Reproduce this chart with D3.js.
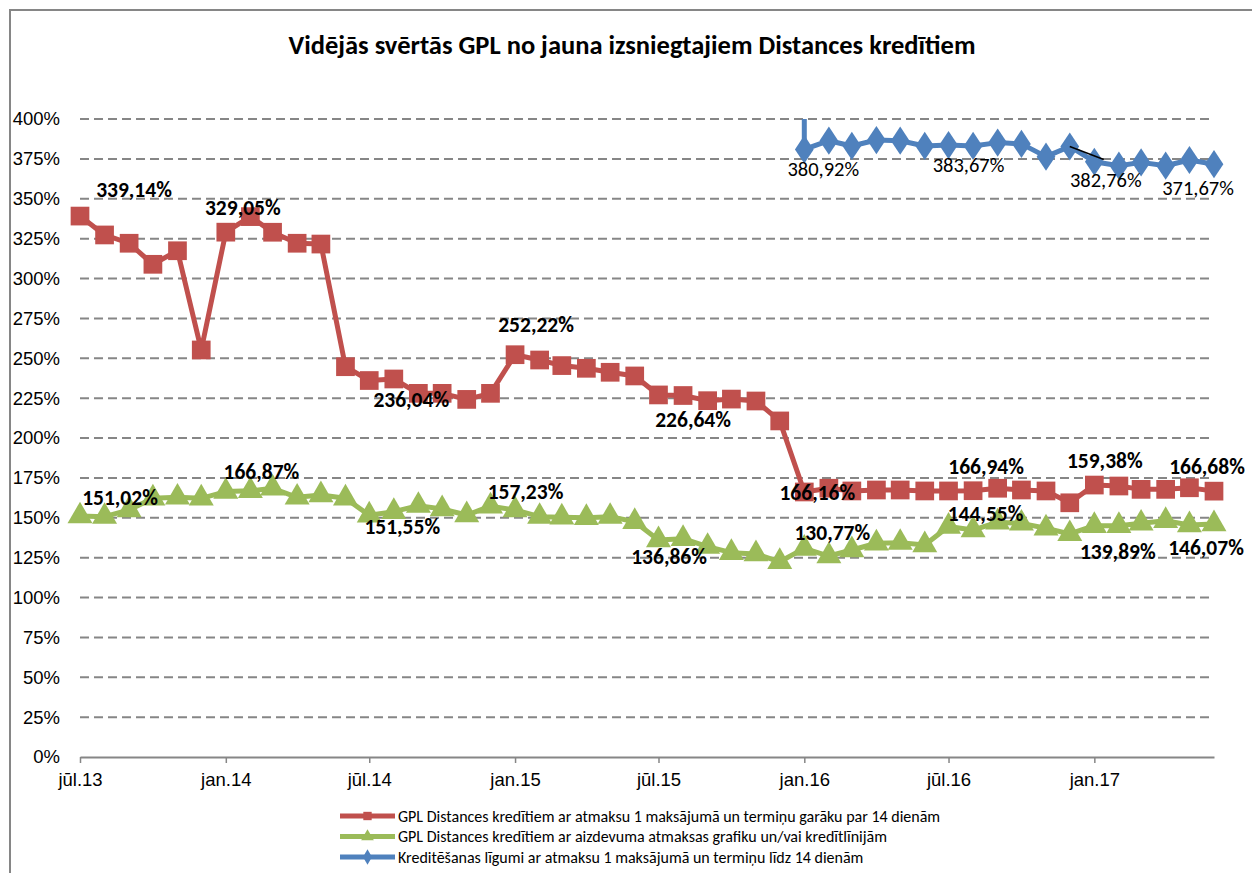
<!DOCTYPE html>
<html>
<head>
<meta charset="utf-8">
<script src="https://cdn.jsdelivr.net/npm/d3@7"></script>
<style>
  body { margin: 0; background: #fff; }
  svg { display: block; font-family: Calibri, Carlito, Lato, sans-serif; }
</style>
</head>
<body>
<svg id="svg" width="1252" height="873"></svg>
<script>
// categories: monthly, jūl.13 .. jūn.17
const firstMonth = new Date(2013, 6, 1);
const lastMonth = new Date(2017, 5, 1);
const months = d3.timeMonth.range(firstMonth, d3.timeMonth.offset(lastMonth, 1));

const seriesNames = [
  "GPL Distances kredītiem ar atmaksu 1 maksājumā un termiņu garāku par 14 dienām",
  "GPL Distances kredītiem ar aizdevuma atmaksas grafiku un/vai kredītlīnijām",
  "Kreditēšanas līgumi ar atmaksu 1 maksājumā un termiņu līdz 14 dienām"
];

const redValues = [339.14, 327.3, 322.1, 308.9, 317.4, 255.2, 329.05, 338.8, 329.0, 322.1, 321.6, 244.7,
  236.04, 237.0, 228.0, 228.0, 224.2, 228.0, 252.22, 248.9, 245.4, 243.7, 241.2, 238.9,
  227.0, 226.64, 223.4, 224.4, 223.2, 210.7, 166.16, 168.5, 166.8, 167.4, 167.4, 166.8,
  166.8, 166.94, 168.5, 167.4, 166.8, 159.38, 170.5, 169.9, 167.8, 167.8, 168.8, 166.68];

const greenValues = [151.02, 150.7, 154.9, 162.2, 162.8, 162.2, 166.4, 166.87, 168.5, 162.8, 164.3, 162.2,
  151.55, 153.8, 157.6, 155.5, 151.7, 157.23, 154.9, 150.7, 150.3, 150.0, 150.7, 147.5,
  136.1, 136.86, 131.9, 128.1, 127.3, 122.4, 130.77, 126.0, 129.8, 134.0, 134.4, 132.9,
  144.55, 142.3, 147.2, 146.5, 143.4, 139.89, 145.0, 145.0, 146.5, 148.1, 145.5, 146.07];

// blue series only from jan.16
const blueValues = [null, null, null, null, null, null, null, null, null, null, null, null,
  null, null, null, null, null, null, null, null, null, null, null, null,
  null, null, null, null, null, null, 380.92, 386.4, 383.1, 386.8, 386.4, 383.1,
  383.67, 383.1, 385.2, 384.4, 376.4, 382.76, 373.2, 370.7, 372.8, 370.7, 374.3, 371.67];

const yTicks = [0, 25, 50, 75, 100, 125, 150, 175, 200, 225, 250, 275, 300, 325, 350, 375, 400];
const monthNames = ["jan.", "feb.", "mar.", "apr.", "mai.", "jūn.", "jūl.", "aug.", "sep.", "okt.", "nov.", "dec."];

// which points carry a value label (series, index)
const labelPoints = [
  [0, 0], [0, 6], [0, 12], [0, 18], [0, 25], [0, 30], [0, 37], [0, 41], [0, 47],
  [1, 0], [1, 7], [1, 12], [1, 17], [1, 25], [1, 30], [1, 36], [1, 41], [1, 47],
  [2, 30], [2, 36], [2, 41], [2, 47]
];
// label placement offsets (px), same order as labelPoints
const labelOffsets = [
  [54, -27], [17, -25], [42, 19], [21, -30], [10, 24], [13, 1], [13, -24], [35, -42], [-7, -25],
  [40, -19], [11, -19], [33, 11], [35, -15], [-14, 18], [28, -16], [37, -13], [48, 18], [-8, 23],
  [19, 19], [20, 20], [36, 33], [-16, 24]
];

const colors = ["#C0504D", "#9BBB59", "#4F81BD"];
const allSeries = [redValues, greenValues, blueValues];

const svg = d3.select("svg#svg");

// chart frame
svg.append("path").attr("d", "M10,873 V10 H1252")
  .attr("fill", "none").attr("stroke", "#868686").attr("stroke-width", 2);

svg.append("text").attr("x", 632).attr("y", 54).attr("text-anchor", "middle")
  .attr("font-size", 26.5).attr("font-weight", "bold").attr("fill", "#000")
  .text("Vidējās svērtās GPL no jauna izsniegtajiem Distances kredītiem");

const x = d3.scaleTime().domain([firstMonth, lastMonth]).range([80, 1214]);
const y = d3.scaleLinear().domain([0, 400]).range([757, 119]);

// gridlines
svg.append("g").selectAll("line").data(yTicks.filter(d => d > 0)).enter()
  .append("line")
  .attr("x1", 80).attr("x2", 1212)
  .attr("y1", d => y(d)).attr("y2", d => y(d))
  .attr("stroke", "#868686").attr("stroke-width", 2).attr("stroke-dasharray", "9,5");

// y axis labels
const yAxis = svg.append("g").attr("transform", "translate(80,0)")
  .call(d3.axisLeft(y).tickValues(yTicks).tickSize(0).tickPadding(20).tickFormat(d => d + "%"));
yAxis.select(".domain").remove();
yAxis.selectAll("text").attr("font-size", 18.5).attr("fill", "#000").attr("font-family", null);

// x axis
const xTicks = d3.timeMonth.every(6).range(firstMonth, lastMonth);
const xAxis = svg.append("g").attr("transform", `translate(0,${y(0)})`)
  .call(d3.axisBottom(x).tickValues(xTicks).tickSize(6).tickSizeOuter(0).tickPadding(10)
    .tickFormat(d => monthNames[d.getMonth()] + String(d.getFullYear()).slice(2)));
xAxis.select(".domain").attr("stroke", "#868686").attr("stroke-width", 2);
xAxis.selectAll(".tick line").attr("stroke", "#868686").attr("stroke-width", 1.5);
xAxis.selectAll("text").attr("font-size", 18.5).attr("fill", "#000").attr("font-family", null);

// markers
const markerSym = [d3.symbolSquare, d3.symbolTriangle, d3.symbolDiamond];
const markerSize = [350, 270, 230];

const plot = svg.append("g");
const line = d3.line().defined(d => d.v != null).x(d => x(d.m)).y(d => y(d.v));

// blue series enters from above the axis maximum
const blueStart = blueValues.findIndex(v => v != null);
plot.append("line")
  .attr("x1", x(months[blueStart])).attr("x2", x(months[blueStart]))
  .attr("y1", y(400)).attr("y2", y(blueValues[blueStart]))
  .attr("stroke", colors[2]).attr("stroke-width", 5);

[2, 1, 0].forEach(si => {
  const pts = months.map((m, i) => ({m: m, v: allSeries[si][i]}));
  plot.append("path").datum(pts)
    .attr("d", line).attr("fill", "none")
    .attr("stroke", colors[si]).attr("stroke-width", 5).attr("stroke-linejoin", "round");
  plot.append("g").selectAll("path").data(pts.filter(d => d.v != null)).enter()
    .append("path")
    .attr("d", d3.symbol(markerSym[si], markerSize[si]))
    .attr("transform", d => `translate(${x(d.m)},${y(d.v)})` + (si == 2 ? " scale(1.15,1)" : ""))
    .attr("fill", colors[si]);
});

// leader line for 382,76%
const leadIdx = 41;
svg.append("line")
  .attr("x1", x(months[leadIdx])).attr("y1", y(blueValues[leadIdx]))
  .attr("x2", x(months[leadIdx]) + 34).attr("y2", y(blueValues[leadIdx]) + 13)
  .attr("stroke", "#000").attr("stroke-width", 1.5);

// data labels
svg.append("g").selectAll("text").data(labelPoints).enter()
  .append("text")
  .attr("x", (d, i) => x(months[d[1]]) + labelOffsets[i][0])
  .attr("y", (d, i) => y(allSeries[d[0]][d[1]]) + labelOffsets[i][1])
  .attr("dy", "0.35em")
  .attr("text-anchor", "middle")
  .attr("font-size", d => d[0] == 2 ? 20.5 : 21.5)
  .attr("font-weight", d => d[0] == 2 ? "normal" : "bold")
  .attr("fill", "#000")
  .text(d => allSeries[d[0]][d[1]].toFixed(2).replace(".", ",") + "%");

// legend
const legend = svg.append("g").selectAll("g").data(seriesNames).enter()
  .append("g").attr("transform", (d, i) => `translate(340,${816 + i * 20.5})`);
legend.append("line").attr("x1", 0).attr("x2", 55)
  .attr("stroke", (d, i) => colors[i]).attr("stroke-width", 5);
legend.append("path")
  .attr("d", (d, i) => d3.symbol(markerSym[i], 70)())
  .attr("transform", "translate(27.5,0)")
  .attr("fill", (d, i) => colors[i]);
legend.append("text").attr("x", 58).attr("dy", "0.35em")
  .attr("font-size", 16).attr("fill", "#000")
  .text(d => d);
</script>
</body>
</html>
